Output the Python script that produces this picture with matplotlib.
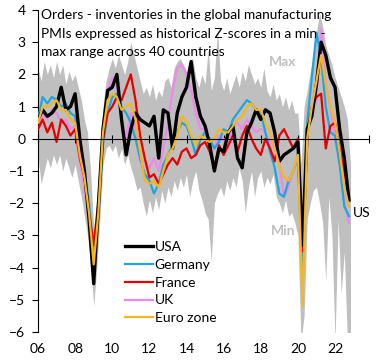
import matplotlib
matplotlib.use("Agg")
import matplotlib.pyplot as plt
import numpy as np

plt.rcParams['font.family'] = ['Lato', 'DejaVu Sans']

# quarterly points for the country lines, 2006Q1 .. 2022Q4
quarters = 2006 + np.arange(68) / 4
# two-monthly points for the min-max band across 40 countries
months2 = 2006 + np.arange(102) / 6

usa = [0.6, 0.9, 0.7, 0.8, 1.0, 1.6, 0.9, 1.0, 1.4, 0.0, -1.0, -2.5,
       -4.5, -2.1, 0.3, 1.5, 1.6, 2.0, 0.6, -0.5, 0.3, 0.8, 0.6, 0.5,
       0.4, 0.7, -0.6, 0.9, 0.8, -0.3, 0.8, 1.3, 1.6, 2.4, 1.3, 0.7,
       0.4, -0.2, -1.0, -0.3, -0.4, 0.2, 0.4, -0.6, -0.9, 0.2, 0.5, 0.9,
       0.6, 0.9, 0.8, 0.2, -0.7, -0.5, -0.4, -0.3, -0.1, -3.3, 0.3, 0.7,
       1.7, 3.0, 2.6, 1.9, 1.6, 0.3, -0.6, -1.9]
germany = [0.6, 1.3, 1.1, 1.3, 1.2, 1.0, 1.1, 0.8, 0.7, -0.4, -1.0, -2.0,
           -3.5, -2.5, -0.2, 0.8, 1.3, 1.4, 1.0, 0.8, 0.5, 0.0, -0.6, -1.1,
           -1.3, -1.7, -1.4, -0.8, -0.5, -0.2, 0.2, 0.5, 0.4, 0.0, -0.5, 0.0,
           0.2, 0.0, -0.3, -0.1, 0.3, 0.2, 0.6, 0.8, 1.0, 1.2, 1.1, 0.9,
           0.8, 0.2, -0.4, -0.9, -1.7, -1.8, -1.3, -1.0, -0.6, -4.5, 0.5, 1.9,
           3.3, 2.5, 1.0, 0.2, 0.1, -0.8, -2.1, -2.4]
france = [0.3, 0.6, 0.2, 0.5, -0.1, 0.6, 0.4, 0.1, 0.3, -0.6, -1.2, -2.3,
          -3.3, -2.0, 0.0, 0.8, 1.0, 1.3, 1.2, 1.6, 2.0, 1.2, 0.1, -0.6,
          -1.2, -1.1, -1.4, -1.1, -0.8, -0.6, -0.8, -0.4, -0.3, -0.6, -0.5, -0.2,
          -0.1, -0.4, -0.9, -0.2, -0.5, -0.2, 0.1, -0.4, 0.1, 0.4, 0.0, -0.3,
          -0.5, 0.0, -0.3, -0.7, 0.1, 0.3, 0.0, -0.3, 0.0, -3.5, 0.2, 1.0,
          1.3, 1.4, -0.3, 0.4, 0.5, -0.3, -1.0, -1.9]
uk = [0.2, 0.8, 0.6, 0.9, 0.8, 0.5, 0.6, 0.3, 0.4, -0.7, -1.5, -2.6,
      -3.6, -2.6, 0.2, 1.5, 1.9, 1.6, 0.6, 0.0, 0.8, 0.4, -0.7, -0.7,
      -0.9, -0.6, -1.0, -0.3, 0.5, 1.5, 2.2, 2.3, 2.0, 1.5, 0.8, 0.3,
      0.3, -0.1, -0.3, 0.1, 0.0, -0.3, 0.4, 0.5, 0.3, 0.6, 0.4, 0.2,
      0.3, 0.2, -0.1, -0.3, -0.7, -1.8, -1.5, -1.0, -0.6, -4.0, 0.0, 1.0,
      1.2, 3.4, 1.7, 1.0, 0.0, -0.8, -2.0, -2.6]
euro_zone = [0.5, 1.0, 1.0, 1.1, 1.2, 0.9, 0.9, 0.6, 0.5, -0.5, -1.2, -2.3,
             -3.9, -2.3, 0.2, 1.2, 1.4, 1.3, 0.9, 1.0, 1.1, 0.6, -0.4, -1.3,
             -1.4, -1.3, -1.5, -1.0, -0.5, -0.3, 0.1, 0.7, 0.5, 0.1, -0.2, 0.1,
             0.0, -0.1, 0.0, 0.3, 0.2, 0.2, 0.4, 0.6, 0.7, 1.0, 1.1, 0.9,
             0.9, 0.5, 0.2, -0.3, -0.8, -1.2, -1.3, -1.0, -0.5, -5.2, 0.0, 1.0,
             1.8, 2.6, 1.7, 1.0, 0.5, -0.4, -1.5, -2.1]

band_max = [2.2, 1.8, 2.4, 2.0, 2.3, 1.9,
            2.4, 2.0, 2.3, 1.7, 2.1, 1.8,
            2.0, 1.6, 1.2, 0.6, 0.2, -1.0,
            -2.8, -1.8, -0.5, 1.0, 1.8, 2.2,
            2.5, 2.2, 2.6, 2.3, 2.0, 2.4,
            3.0, 2.6, 2.2, 1.8, 1.4, 1.6,
            1.3, 1.7, 1.2, 1.5, 1.3, 1.8,
            1.9, 1.6, 2.2, 2.4, 2.5, 2.3,
            2.1, 2.4, 2.5, 1.9, 1.6, 2.0,
            1.7, 2.8, 1.5, 1.9, 3.4, 1.8,
            1.5, 1.9, 1.4, 1.7, 2.0, 1.6,
            2.1, 1.8, 2.3, 2.0, 1.7, 1.9,
            1.6, 2.2, 1.5, 1.3, 1.7, 1.2,
            1.4, 1.0, 1.3, 0.9, 1.2, 0.8,
            0.8, -0.8, 1.0, 1.5, 2.1, 2.6,
            3.3, 3.9, 3.5, 2.9, 2.6, 2.3,
            1.9, 1.6, 1.3, 1.0, 0.6, -0.8]
band_min = [-0.5, -1.4, -1.0, -0.6, -0.9, -0.5,
            -0.8, -0.5, -1.0, -0.6, -0.9, -1.2,
            -0.8, -1.3, -1.8, -2.4, -3.0, -3.8,
            -5.2, -4.0, -2.5, -0.8, -0.3, -0.2,
            -0.4, -0.2, -0.6, -0.3, -0.8, -0.5,
            -0.9, -1.2, -1.6, -1.5, -2.0, -2.4,
            -1.9, -2.3, -1.8, -2.2, -1.6, -2.0,
            -1.5, -1.8, -1.3, -1.6, -1.2, -1.5,
            -1.1, -1.8, -1.3, -1.0, -1.6, -1.9,
            -2.3, -2.5, -3.8, -2.0, -1.7, -1.5,
            -1.8, -1.3, -1.6, -1.2, -1.5, -0.9,
            -1.3, -2.3, -1.5, -1.0, -1.8, -1.2,
            -1.0, -1.5, -1.2, -1.4, -1.1, -1.8,
            -2.0, -2.3, -1.9, -2.4, -2.3, -2.6,
            -3.0, -6.3, -5.5, -2.5, -2.0, -1.6,
            -1.5, -2.0, -2.6, -4.4, -1.8, -3.0,
            -6.3, -2.5, -4.8, -3.5, -6.3, -6.3]

x_ticks = [2006, 2008, 2010, 2012, 2014, 2016, 2018, 2020, 2022]
x_labels = ['06', '08', '10', '12', '14', '16', '18', '20', '22']
y_ticks = [4, 3, 2, 1, 0, -1, -2, -3, -4, -5, -6]
title_lines = ['Orders - inventories in the global manufacturing',
               'PMIs expressed as historical Z-scores in a min -',
               'max range across 40 countries']

fig = plt.figure(figsize=(3.84, 3.61), dpi=100)
ax = fig.add_axes([38 / 384, 1 - 332 / 361, 331 / 384, 322 / 361])

ax.fill_between(months2, band_min, band_max, color='#bfbfbf', lw=0, zorder=1)

series = [
    ('UK', uk, '#ee88ee', 1.6, 2),
    ('Germany', germany, '#1ea6dc', 1.6, 3),
    ('France', france, '#e60000', 1.6, 4),
    ('USA', usa, 'black', 2.4, 5),
    ('Euro zone', euro_zone, '#f7b51e', 1.6, 6),
]
handles = {}
for name, vals, col, lw, z in series:
    handles[name], = ax.plot(quarters, vals, color=col, lw=lw, zorder=z,
                             solid_joinstyle='round')

ax.set_xlim(2006, 2023.83)
ax.set_ylim(-6, 4)

for s in ['top', 'right']:
    ax.spines[s].set_visible(False)
ax.spines['bottom'].set_position(('data', 0))
ax.spines['bottom'].set_zorder(7)
ax.set_xticks(x_ticks + [2023.83])
ax.set_xticklabels([])
ax.tick_params(axis='x', direction='inout', length=6, width=0.8)
ax.set_yticks(y_ticks)
ax.tick_params(axis='y', direction='out', length=4, width=0.8, labelsize=10, pad=5)

sec = ax.secondary_xaxis('bottom')
sec.set_xticks(x_ticks)
sec.set_xticklabels(x_labels)
sec.tick_params(length=0, labelsize=10, pad=8)
sec.spines['bottom'].set_visible(False)

# title, one text per line (centres at 15, 34, 52 px from the top)
for i, line in enumerate(title_lines):
    fig.text(41 / 384, 1 - (15 + 18.5 * i) / 361, line, ha='left', va='center',
             fontsize=9.9, zorder=10)

ax.text(2019.2, 2.4, 'Max', color='#bfbfbf', fontsize=10, fontweight='bold',
        ha='center', va='center', zorder=8)
ax.text(2019.2, -2.85, 'Min', color='#bfbfbf', fontsize=10, fontweight='bold',
        ha='center', va='center', zorder=8)
ax.text(2022.95, -2.3, 'US', fontsize=10, ha='left', va='center')

order = ['USA', 'Germany', 'France', 'UK', 'Euro zone']
leg = ax.legend([handles[n] for n in order], order, loc='upper left',
                bbox_to_anchor=(125 / 384, 1 - 241 / 361), bbox_transform=fig.transFigure,
                frameon=False, fontsize=10, handlelength=2.0, handletextpad=0.15,
                labelspacing=0.42, borderpad=0, borderaxespad=0)

fig.savefig('out.png', dpi=100)
